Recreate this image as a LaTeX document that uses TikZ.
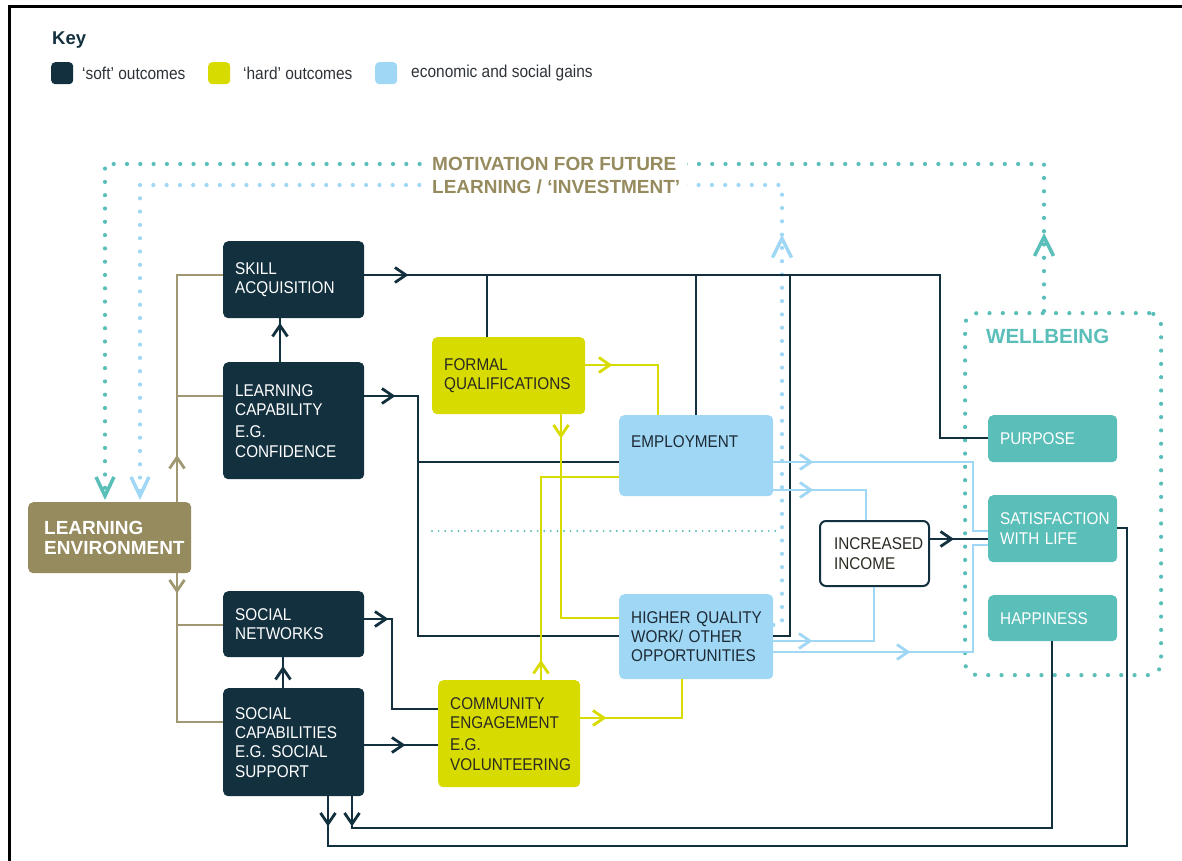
\documentclass[tikz,border=0pt]{standalone}
\usepackage{fontspec}
\setmainfont{Liberation Sans}
\newfontfamily\narrowsans{Liberation Sans}[FakeStretch=0.9]
\usetikzlibrary{arrows.meta,decorations.markings}

\definecolor{navy}{HTML}{13303F}
\definecolor{hardyellow}{HTML}{D8DB00}
\definecolor{gainblue}{HTML}{9FD7F5}
\definecolor{wellteal}{HTML}{5ABEB9}
\definecolor{envolive}{HTML}{968B5E}
\definecolor{olivestroke}{HTML}{A09872}
\definecolor{inkdark}{HTML}{2A2A22}
\definecolor{inkblue}{HTML}{1D2A35}
\definecolor{keytext}{HTML}{2E3338}

\hyphenpenalty=10000
\exhyphenpenalty=10000

\newcommand\boxfont{\narrowsans\fontsize{17}{19.3}\selectfont}
\newcommand\headfont{\fontsize{19}{23}\selectfont\bfseries}

\tikzset{
  chevron/.style={postaction={decorate,decoration={markings,
      mark=at position #1 with {\arrow{Straight Barb[length=11pt,width=15pt,line width=2.8pt]}}}}},
  bigchevron/.style={postaction={decorate,decoration={markings,
      mark=at position #1 with {\arrow{Straight Barb[length=19pt,width=19pt,line width=3.5pt]}}}}},
  bigtip/.style={-{Straight Barb[length=19pt,width=18pt,line width=3.5pt]}},
  outcome/.style={rounded corners=5pt, anchor=north west, align=left,
      inner ysep=0pt, inner xsep=12pt, font=\boxfont},
  soft/.style={outcome, fill=navy, text=white},
  hard/.style={outcome, fill=hardyellow, text=inkdark},
  gain/.style={outcome, fill=gainblue, text=inkblue},
  well/.style={outcome, fill=wellteal, text=white},
  navypath/.style={draw=navy, line width=2.2pt},
  yellowpath/.style={draw=hardyellow, line width=2.2pt},
  bluepath/.style={draw=gainblue, line width=2.2pt},
  olivepath/.style={draw=olivestroke, line width=2.2pt},
  tealdots/.style={draw=wellteal, line width=4.2pt, line cap=round, dash pattern=on 0pt off 13.3pt},
  bluedots/.style={draw=gainblue, line width=4.2pt, line cap=round, dash pattern=on 0pt off 13.3pt},
  swatch/.style={rounded corners=4pt, anchor=north west, minimum width=22pt,
      minimum height=22pt, inner sep=0pt},
  keylabel/.style={anchor=west, inner sep=0pt, text=keytext, font=\narrowsans\fontsize{17.2}{19}\selectfont},
}

\begin{document}
\begin{tikzpicture}[x=1pt,y=-1pt]
\useasboundingbox (0,0) rectangle (1182,861);

% helper levels used to route the connectors
\foreach \v in {164,185,275,365,396,438,462,477,490,528,531,539,545,618,619,625,636,641,652,709,718,722,745,828,846}
  {\coordinate (y\v) at (0,\v);}
\foreach \v in {105,140,177,280,283,328,352,392,418,487,541,561,658,682,696,782,790,866,874,940,973,1044,1052,1127}
  {\coordinate (x\v) at (\v,0);}

% page frame
\coordinate (fb) at (9,861);
\coordinate (ft) at (9,7);
\coordinate (fr) at (1182,7);
\draw[line width=3pt] (fb) -- (ft) -- (fr);

% key
\node[anchor=base west, inner sep=0pt, text=navy, font=\fontsize{18.5}{22}\selectfont\bfseries] (key) at (52,45) {Key};
\node[swatch, fill=navy] (k1) at (51,62) {};
\node[keylabel] (k1t) at (82,73) {‘soft’ outcomes};
\node[swatch, fill=hardyellow] (k2) at (208,62) {};
\node[keylabel] (k2t) at (243,73) {‘hard’ outcomes};
\node[swatch, fill=gainblue] (k3) at (375,62) {};
\node[keylabel] (k3t) at (411,73) {economic and social gains};

% outcome boxes
\node[soft, minimum width=141pt, text width=117pt, minimum height=77pt] (skill) at (223,241) {SKILL\\ACQUISITION};
\node[soft, minimum width=141pt, text width=117pt, minimum height=117pt] (lcap) at (223,362) {LEARNING\\CAPABILITY\\[3pt]E.G.\\CONFIDENCE};
\node[soft, minimum width=141pt, text width=117pt, minimum height=66pt] (snet) at (223,591) {SOCIAL\\NETWORKS};
\node[soft, minimum width=141pt, text width=117pt, minimum height=108pt] (scap) at (223,688) {SOCIAL\\CAPABILITIES\\E.G.~SOCIAL\\SUPPORT};
\node[outcome, fill=envolive, text=white, inner xsep=16pt, minimum width=163pt, text width=131pt, minimum height=71pt,
      font=\fontsize{19}{20}\selectfont\bfseries] (lenv) at (28,502) {LEARNING\\ENVIRONMENT};

\node[hard, minimum width=153pt, text width=129pt, minimum height=77pt] (formal) at (432,337) {FORMAL\\QUALIFICATIONS};
\node[hard, minimum width=142pt, text width=118pt, minimum height=107pt] (comm) at (438,680) {COMMUNITY\\ENGAGEMENT\\[3pt]E.G.\\VOLUNTEERING};

\node[gain, minimum width=154pt, text width=130pt, minimum height=81pt] (emp) at (619,415) {EMPLOYMENT\\[8.7pt]\mbox{}};
\node[gain, minimum width=154pt, text width=130pt, minimum height=85pt] (hq) at (619,594) {HIGHER~QUALITY\\WORK/~OTHER\\OPPORTUNITIES};

\node[outcome, draw=navy, line width=2pt, fill=white, text=inkdark, rounded corners=6pt, inner xsep=14pt,
      minimum width=109pt, text width=81pt, minimum height=65pt] (income) at (819,520) {INCREASED\\INCOME};

\node[tealdots, rounded corners=12pt, anchor=north west, inner sep=0pt, minimum width=196pt, minimum height=362pt] (wb) at (963,311) {};
\node[anchor=base west, inner sep=0pt, text=wellteal, font=\fontsize{20.5}{24}\selectfont\bfseries] (wbtitle) at (986,343.5) {WELLBEING};
\node[well, minimum width=129pt, text width=105pt, minimum height=47pt] (purpose) at (988,415) {PURPOSE};
\node[well, minimum width=129pt, text width=105pt, minimum height=67pt] (satis) at (988,495) {SATISFACTION\\WITH~LIFE};
\node[well, minimum width=129pt, text width=105pt, minimum height=46pt] (happy) at (988,595) {HAPPINESS};

% feedback loops back to the learning environment
\draw[tealdots, bigchevron=78pt, bigtip, shorten >=2pt]
  (wb.north -| x1044) -- (x1044 |- y164) -- (x105 |- y164) -- (lenv.north -| x105);
\draw[bluedots, bigchevron=399pt, bigtip, shorten >=2pt]
  (hq.east |- y625) -- (x782 |- y625) -- (x782 |- y185) -- (x140 |- y185) -- (lenv.north -| x140);
\node[anchor=west, align=left, fill=white, inner xsep=7pt, inner ysep=5pt, text=envolive, font=\headfont]
  (motive) at (425,175.5) {MOTIVATION FOR FUTURE\\LEARNING / ‘INVESTMENT’};

% thin divider between employment and higher quality work
\coordinate (d1) at (432,531);
\coordinate (d2) at (778,531);
\draw[wellteal, line width=2.2pt, line cap=round, dash pattern=on 0pt off 6.6pt] (d1) -- (d2);

% learning environment feeds the soft outcomes
\draw[olivepath, chevron=47pt] (lenv.north -| x177) -- (x177 |- y275) -- (skill.west |- y275);
\draw[olivepath] (x177 |- y396) -- (lcap.west |- y396);
\draw[olivepath, chevron=20pt] (lenv.south -| x177) -- (x177 |- y722) -- (scap.west |- y722);
\draw[olivepath] (x177 |- y625) -- (snet.west |- y625);

% soft outcomes
\draw[navypath, chevron=39pt] (lcap.north -| x280) -- (skill.south -| x280);
\draw[navypath, chevron=22pt] (scap.north -| x283) -- (snet.south -| x283);
\draw[navypath, chevron=44pt] (skill.east |- y275) -- (x940 |- y275) -- (x940 |- y438) -- (purpose.west |- y438);
\draw[navypath] (formal.north -| x487) -- (x487 |- y275);
\draw[navypath] (emp.north -| x696) -- (x696 |- y275);
\draw[navypath] (hq.east |- y636) -- (x790 |- y636) -- (x790 |- y275);
\draw[navypath, chevron=31pt] (lcap.east |- y396) -- (x418 |- y396) -- (x418 |- y636) -- (hq.west |- y636);
\draw[navypath] (x418 |- y462) -- (emp.west |- y462);
\draw[navypath, chevron=24pt] (snet.east |- y619) -- (x392 |- y619) -- (x392 |- y709) -- (comm.west |- y709);
\draw[navypath, chevron=41pt] (scap.east |- y745) -- (comm.west |- y745);
\draw[navypath, chevron=24pt] (income.east |- y539) -- (satis.west |- y539);
\draw[navypath, chevron=30pt] (scap.south -| x352) -- (x352 |- y828) -- (x1052 |- y828) -- (happy.south -| x1052);
\draw[navypath, chevron=30pt] (scap.south -| x328) -- (x328 |- y846) -- (x1127 |- y846) -- (x1127 |- y528) -- (satis.east |- y528);

% hard outcomes
\draw[yellowpath, chevron=27pt] (formal.east |- y365) -- (x658 |- y365) -- (emp.north -| x658);
\draw[yellowpath, chevron=24pt] (formal.south -| x561) -- (x561 |- y618) -- (hq.west |- y618);
\draw[yellowpath, chevron=20pt] (comm.north -| x541) -- (x541 |- y477) -- (emp.west |- y477);
\draw[yellowpath, chevron=26pt] (comm.east |- y718) -- (x682 |- y718) -- (hq.south -| x682);

% economic and social gains
\draw[bluepath, chevron=40pt] (emp.east |- y462) -- (x973 |- y462) -- (x973 |- y531) -- (satis.west |- y531);
\draw[bluepath, chevron=40pt] (emp.east |- y490) -- (x866 |- y490) -- (income.north -| x866);
\draw[bluepath, chevron=39pt] (hq.east |- y641) -- (x874 |- y641) -- (income.south -| x874);
\draw[bluepath, chevron=137pt] (hq.east |- y652) -- (x973 |- y652) -- (x973 |- y545) -- (satis.west |- y545);

\end{tikzpicture}
\end{document}
